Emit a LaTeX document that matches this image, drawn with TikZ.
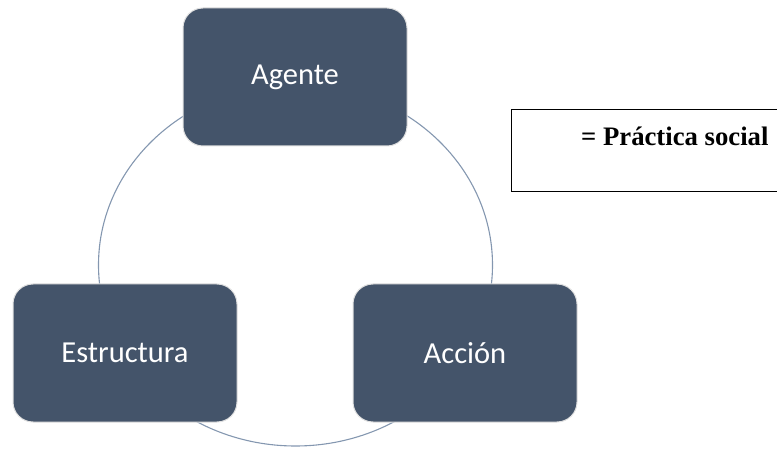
\documentclass[tikz,border=0pt]{standalone}
\usepackage{fontspec}
\setmainfont{Carlito}
\newfontfamily\legendfont{Liberation Serif}
\usetikzlibrary{positioning}
\definecolor{slate}{HTML}{44546A}
\definecolor{cyclegray}{HTML}{8497B0}

\begin{document}
\begin{tikzpicture}[x=1pt,y=-1pt]
	\tikzstyle{every node}+=[inner sep=0pt]
	\tikzstyle{stage}=[draw=black!12, line width=1pt, fill=slate, text=white, rounded corners=20pt, minimum width=224pt, minimum height=138pt, font=\fontsize{30.5}{36}\selectfont]
	\useasboundingbox (0,0) rectangle (777,449);
	\clip (0,0) rectangle (777,449);
	\coordinate (hub) at (295.5,265);
	\draw [cyclegray, line width=1.1pt] (hub) ellipse [x radius=197pt, y radius=181pt];
	\node [stage] (agente) at (295,77) {Agente};
	\node [stage] (estructura) at (125,353) {Estructura};
	\node [stage] (accion) at (465,353) {Acción};
	\draw [black, line width=1.6pt] (511.5,109.5) rectangle (790,191.5);
	\node [anchor=base west, font=\legendfont\bfseries\fontsize{26.7}{31}\selectfont] (practica) at (581,145.5) {= Práctica social};
\end{tikzpicture}
\end{document}
